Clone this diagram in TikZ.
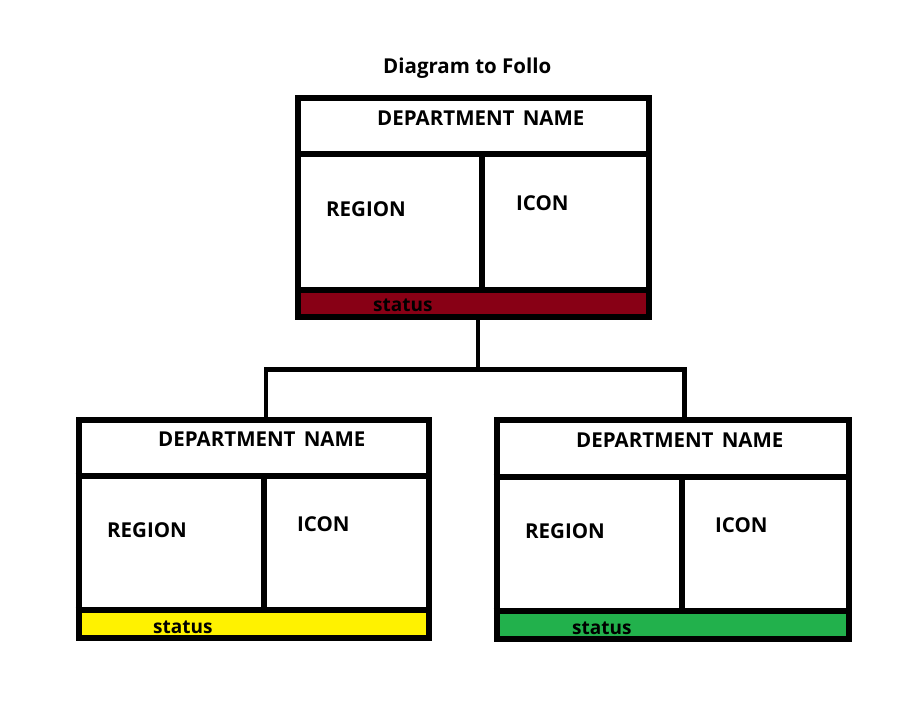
\documentclass[tikz,border=0pt]{standalone}
\usepackage{fontspec}
\setmainfont{Open Sans}
\definecolor{stred}{HTML}{880015}
\definecolor{styellow}{HTML}{FFF200}
\definecolor{stgreen}{HTML}{22B14C}
\tikzset{
  box/.style={draw=black, line width=6pt, inner sep=0pt, fill=none},
  sep/.style={line width=6pt, draw=black},
  conn/.style={line width=4.5pt, draw=black},
  lbl/.style={anchor=west, inner sep=0pt, font=\fontsize{20.5}{24}\selectfont\bfseries},
  stat/.style={anchor=west, inner sep=0pt, font=\fontsize{19}{22}\selectfont\bfseries},
}
\begin{document}
\begin{tikzpicture}[x=1pt,y=-1pt]
\useasboundingbox (0,0) rectangle (913,713);
% title
\node[lbl] (title) at (383,68) {Diagram to Follo};

% ---------- top box ----------
\fill[stred] (298,290) rectangle (649,317);
\node[box, minimum width=351pt, minimum height=219pt] (top) at (473.5,207.5) {};
\draw[sep] (top.west |- 0,154) -- (top.east |- 0,154);
\draw[sep] (top.west |- 0,290) -- (top.east |- 0,290);
\draw[sep] (482,154) -- (482,290);
\node[lbl] (topdept) at (377,118) {DEPARTMENT\hspace{0.4em}NAME};
\node[lbl] (topreg) at (326,209) {REGION};
\node[lbl] (topicon) at (516,203) {ICON};
\node[stat] (topstat) at (373,305) {status};

% ---------- left box ----------
\fill[styellow] (78.5,610) rectangle (428.5,637.5);
\node[box, minimum width=350pt, minimum height=218pt] (L) at (253.5,528.5) {};
\draw[sep] (L.west |- 0,476) -- (L.east |- 0,476);
\draw[sep] (L.west |- 0,610) -- (L.east |- 0,610);
\draw[sep] (263.5,476) -- (263.5,610);
\node[lbl] (Ldept) at (158,439) {DEPARTMENT\hspace{0.4em}NAME};
\node[lbl] (Lreg) at (107,530) {REGION};
\node[lbl] (Licon) at (297,524) {ICON};
\node[stat] (Lstat) at (153,627) {status};

% ---------- right box ----------
\fill[stgreen] (496.5,611) rectangle (848.5,638.5);
\node[box, minimum width=352pt, minimum height=219pt] (R) at (672.5,529) {};
\draw[sep] (R.west |- 0,477) -- (R.east |- 0,477);
\draw[sep] (R.west |- 0,611) -- (R.east |- 0,611);
\draw[sep] (681.5,477) -- (681.5,611);
\node[lbl] (Rdept) at (576,440) {DEPARTMENT\hspace{0.4em}NAME};
\node[lbl] (Rreg) at (525,531) {REGION};
\node[lbl] (Ricon) at (715,525) {ICON};
\node[stat] (Rstat) at (572,628) {status};

% ---------- connectors ----------
\coordinate (j) at (478,369.5);
\coordinate (jL) at (266,369.5);
\coordinate (jR) at (684.5,369.5);
\draw[conn] (j |- top.south) -- (j);
\draw[conn] (jL |- L.north) -- (jL) -- (jR) -- (jR |- R.north);
\end{tikzpicture}
\end{document}
